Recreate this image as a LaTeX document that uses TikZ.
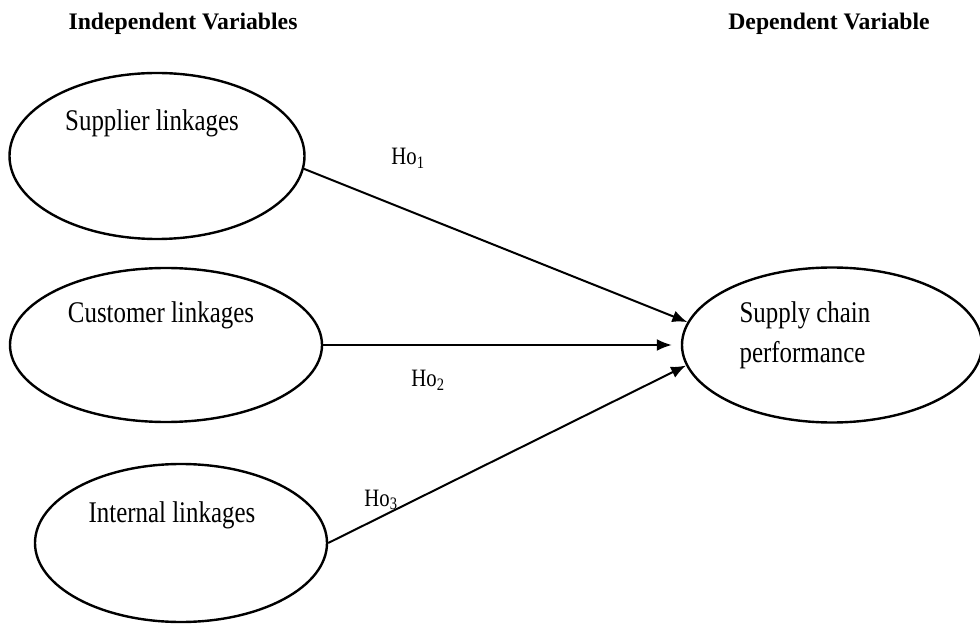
\documentclass[tikz,border=0pt]{standalone}
\usepackage{fontspec}
\setmainfont{Liberation Serif}
\newfontfamily\narrowfont{Liberation Serif}[FakeStretch=0.83]
\usetikzlibrary{shapes.geometric,arrows.meta,positioning}

\begin{document}
\begin{tikzpicture}[
  x=1pt, y=-1pt,
  myvar/.style={
    draw,
    ellipse,
    line width=2.4pt,
    inner sep=0pt
    },
  mytext/.style={
    font=\narrowfont\fontsize{30}{40}\selectfont,
    inner sep=0pt
    },
  myhead/.style={
    font=\bfseries\fontsize{23.7}{28}\selectfont,
    inner sep=0pt
    },
  myho/.style={
    font=\narrowfont\fontsize{25}{28}\selectfont,
    inner sep=0pt
    },
  mylink/.style={
    line width=2pt,
    -{Latex[length=15pt,width=12pt]}
    }
]
\useasboundingbox (0,0) rectangle (980,628);

% headings
\node [myhead] (indep) at (183,24) {Independent Variables};
\node [myhead] (dep) at (829,24) {Dependent Variable};

% ellipses
\node [myvar, minimum width=295pt, minimum height=166pt] (sup) at (157,156) {};
\node [myvar, minimum width=312pt, minimum height=154pt] (cus) at (166,345) {};
\node [myvar, minimum width=292pt, minimum height=158pt] (int) at (181,543) {};
\node [myvar, minimum width=300pt, minimum height=155pt] (perf) at (832,345) {};

% texts
\node [mytext] (suptxt) at ([xshift=-5pt,yshift=33pt]sup.center) {Supplier linkages};
\node [mytext] (custxt) at ([xshift=-5pt,yshift=30pt]cus.center) {Customer linkages};
\node [mytext] (inttxt) at ([xshift=-9pt,yshift=28pt]int.center) {Internal linkages};
\node [mytext, align=left] (perftxt) at ([xshift=-27pt,yshift=10pt]perf.center) {Supply chain\\performance};

% hypotheses
\draw [mylink] (sup.-5) -- (perf.171);
\draw [mylink, shorten >=9pt] (cus.east) -- (perf.west);
\draw [mylink] (int.east) -- (perf.188);

\node [myho] (ho1) at (408,158) {Ho\textsubscript{1}};
\node [myho] (ho2) at (428,380) {Ho\textsubscript{2}};
\node [myho] (ho3) at (381,500) {Ho\textsubscript{3}};

\end{tikzpicture}
\end{document}
